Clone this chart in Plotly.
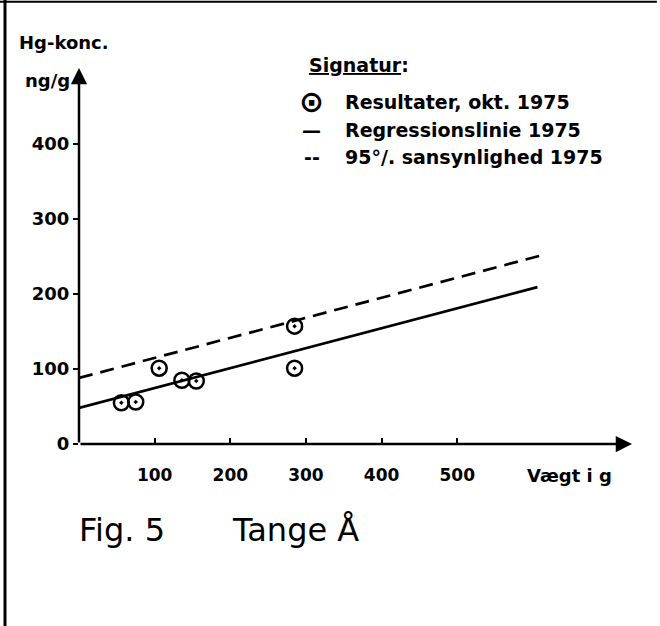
import plotly.graph_objects as go

# Data (weight in g, Hg concentration in ng/g)
weight_g = [56, 75, 106, 136, 155, 285, 285]
hg_ng_g = [55, 56, 101, 85, 84, 157, 101]

reg_x = [0, 606]
reg_y = [48, 209]

conf_x = [0, 610]
conf_y = [88, 251]

x_ticks = [100, 200, 300, 400, 500]
y_ticks = [0, 100, 200, 300, 400]

X_MAX = 731
Y_MAX = 501

FONT = "DejaVu Sans"
BLACK = "#000000"

fig = go.Figure()

fig.add_trace(go.Scatter(
    x=reg_x, y=reg_y, mode="lines",
    line=dict(color=BLACK, width=2.7),
    name="Regressionslinie 1975", showlegend=False, hoverinfo="skip"))

fig.add_trace(go.Scatter(
    x=conf_x, y=conf_y, mode="lines",
    line=dict(color=BLACK, width=2.7, dash="14px,8px"),
    name="95°/. sansynlighed 1975", showlegend=False, hoverinfo="skip"))

fig.add_trace(go.Scatter(
    x=weight_g, y=hg_ng_g, mode="markers",
    marker=dict(symbol="circle-open-dot", size=15, color=BLACK,
                line=dict(color=BLACK, width=2.5)),
    name="Resultater, okt. 1975", showlegend=False, cliponaxis=False))

annotations = []

# Axis arrows
annotations.append(dict(x=X_MAX, y=0, ax=0, ay=0, xref="x", yref="y",
                        axref="x", ayref="y", text="", showarrow=True,
                        arrowhead=2, arrowsize=1.3, arrowwidth=2.5,
                        arrowcolor=BLACK, standoff=0, startstandoff=0))
annotations.append(dict(x=0, y=Y_MAX, ax=0, ay=0, xref="x", yref="y",
                        axref="x", ayref="y", text="", showarrow=True,
                        arrowhead=2, arrowsize=1.3, arrowwidth=2.5,
                        arrowcolor=BLACK, standoff=0, startstandoff=0))

def txt(text, x, y, size, xanchor="left", yanchor="middle"):
    annotations.append(dict(text=text, x=x, y=y, xref="paper", yref="paper",
                            xanchor=xanchor, yanchor=yanchor, showarrow=False,
                            font=dict(family=FONT, size=size, color=BLACK)))

# Axis titles
txt("<b>Hg-konc.</b>", -0.112, 1.0665, 18)
txt("<b>ng/g</b>", -0.101, 0.968, 18)
txt("<b>Vægt i g</b>", 0.807, -0.083, 18)

# Legend ("Signatur")
txt("<b><u>Signatur</u>:</b>", 0.412, 1.008, 19)
txt("<b>⊙</b>", 0.4213, 0.9096, 30, xanchor="center")
txt("<b>—</b>", 0.4213, 0.8351, 19, xanchor="center")
txt("<b>--</b>", 0.4213, 0.7633, 19, xanchor="center")
txt("<b>Resultater, okt. 1975</b>", 0.4774, 0.9096, 19)
txt("<b>Regressionslinie 1975</b>", 0.4774, 0.8351, 19)
txt("<b>95°/. sansynlighed 1975</b>", 0.4774, 0.7633, 19)

# Caption
txt("Fig. 5", -0.004, -0.229, 32)
txt("Tange Å", 0.273, -0.229, 32)

shapes = [
    dict(type="line", xref="paper", yref="paper", x0=-0.1338, x1=-0.1338,
         y0=-0.49, y1=1.181, line=dict(color=BLACK, width=3)),
    dict(type="line", xref="paper", yref="paper", x0=-0.145, x1=1.045,
         y0=1.176, y1=1.176, line=dict(color=BLACK, width=2)),
]

fig.update_layout(
    width=660, height=626,
    margin=dict(l=79, r=28, t=68, b=182),
    paper_bgcolor="white", plot_bgcolor="white",
    font=dict(family=FONT, size=18, color=BLACK),
    annotations=annotations, shapes=shapes,
    showlegend=False,
    xaxis=dict(range=[0, X_MAX], showgrid=False, zeroline=False,
               showline=False, tickvals=x_ticks,
               ticktext=[f"<b>{v}</b>" for v in x_ticks], ticks="inside",
               ticklen=6, tickwidth=2, tickcolor=BLACK,
               ticklabelstandoff=19,
               tickfont=dict(family=FONT, size=17, color=BLACK)),
    yaxis=dict(range=[0, Y_MAX], showgrid=False, zeroline=False,
               showline=False, tickvals=y_ticks,
               ticktext=[f"<b>{v}</b>" for v in y_ticks], ticks="outside",
               ticklen=5, tickwidth=2, tickcolor=BLACK,
               tickfont=dict(family=FONT, size=18, color=BLACK)),
)

fig.write_html(
    "out.html",
    config={"displayModeBar": False},
    post_script="document.body.style.margin='0px';document.body.style.overflow='hidden';",
)
